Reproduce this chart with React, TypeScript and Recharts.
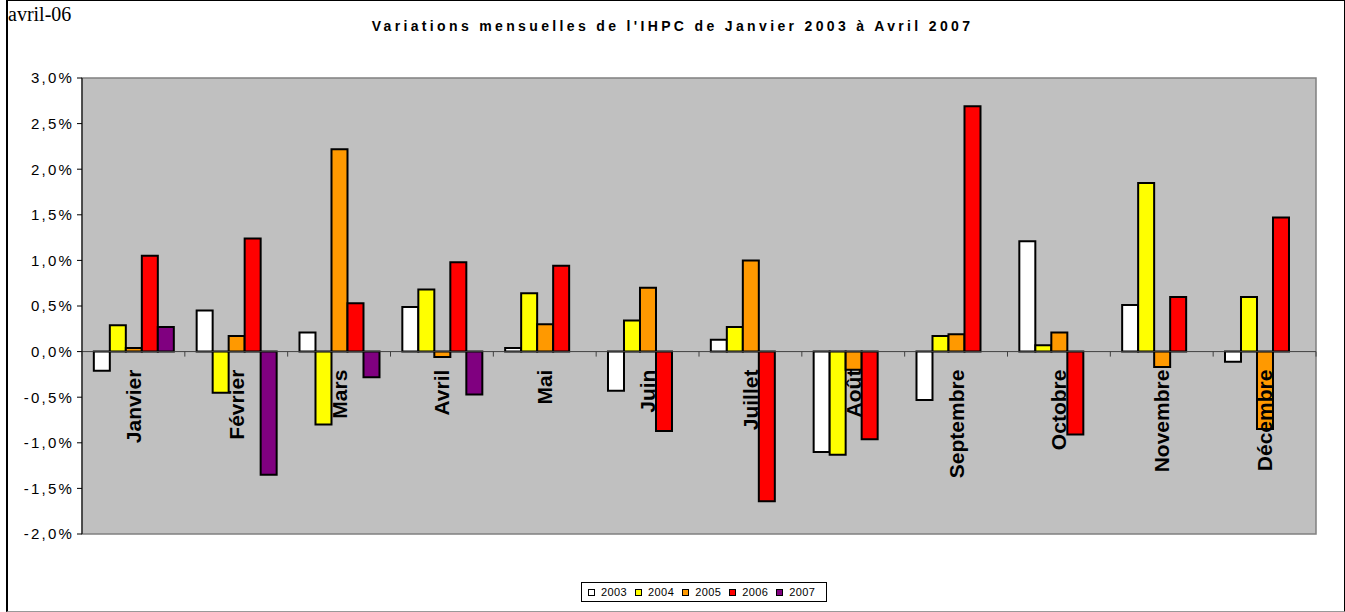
import { BarChart, Bar, XAxis, YAxis, CartesianGrid, ReferenceLine, ReferenceArea } from "recharts";

// Variations mensuelles de l'IHPC, une barre par année et par mois.
const months = ["Janvier", "Février", "Mars", "Avril", "Mai", "Juin", "Juillet", "Août", "Septembre", "Octobre", "Novembre", "Décembre"];
const years = ["2003", "2004", "2005", "2006", "2007"];
const colors = ["#FFFFFF", "#FFFF00", "#FF9900", "#FF0000", "#800080"];

const v2003 = [-0.21, 0.45, 0.21, 0.49, 0.04, -0.43, 0.13, -1.1, -0.53, 1.21, 0.51, -0.11];
const v2004 = [0.29, -0.45, -0.8, 0.68, 0.64, 0.34, 0.27, -1.13, 0.17, 0.07, 1.85, 0.6];
const v2005 = [0.04, 0.17, 2.22, -0.06, 0.3, 0.7, 1.0, -0.2, 0.19, 0.21, -0.17, -0.85];
const v2006 = [1.05, 1.24, 0.53, 0.98, 0.94, -0.87, -1.64, -0.96, 2.69, -0.91, 0.6, 1.47];
const v2007 = [0.27, -1.35, -0.28, -0.47, null, null, null, null, null, null, null, null];

const yTicks = [-2, -1.5, -1, -0.5, 0, 0.5, 1, 1.5, 2, 2.5, 3];

const series = [v2003, v2004, v2005, v2006, v2007];
const data = months.map((m, i) => {
  const row: Record<string, any> = { month: m };
  years.forEach((y, k) => (row[y] = series[k][i]));
  return row;
});

const W = 1345;
const H = 612;
const PLOT_LEFT = 82;
const PLOT_RIGHT = 1316;
const PLOT_TOP = 78;
const PLOT_BOTTOM = 534;
const Y_MIN = -2;
const Y_MAX = 3;
const ZERO_Y = PLOT_TOP + ((PLOT_BOTTOM - PLOT_TOP) * Y_MAX) / (Y_MAX - Y_MIN);
const BAND = (PLOT_RIGHT - PLOT_LEFT) / months.length;

const font = "Arial, 'Liberation Sans', sans-serif";

const fmt = (v: number) => `${v.toFixed(1).replace(".", ",")}%`;

// labels sit on the zero line, as in Excel's "next to axis"
function MonthTick(props: any) {
  const { x, payload, index } = props;
  const y0 = ZERO_Y + 18;
  return (
    <g>
      <line x1={x - BAND / 2} x2={x - BAND / 2} y1={ZERO_Y} y2={ZERO_Y + 5} stroke="#404040" />
      {index === months.length - 1 && (
        <line x1={x + BAND / 2} x2={x + BAND / 2} y1={ZERO_Y} y2={ZERO_Y + 5} stroke="#404040" />
      )}
      <text
        x={x}
        y={y0}
        transform={`rotate(-90, ${x}, ${y0})`}
        textAnchor="end"
        dominantBaseline="central"
        fontFamily={font}
        fontWeight="bold"
        fontSize={21}
        fill="#000"
      >
        {payload.value}
      </text>
    </g>
  );
}

export default function App() {
  return (
    <div style={{ position: "absolute", left: 0, top: 0, width: W, height: H, background: "#fff", fontFamily: font }}>
      <div
        style={{
          position: "absolute",
          left: 6,
          top: 0,
          width: 1336,
          height: 610,
          borderLeft: "2px solid #000",
          borderTop: "1px solid #000",
          borderRight: "2px solid #000",
          borderBottom: "1px solid #999",
        }}
      />
      <div
        style={{
          position: "absolute",
          left: 8,
          top: 3,
          fontFamily: "'Liberation Serif', 'Times New Roman', serif",
          fontSize: 20,
          lineHeight: "22px",
          color: "#000",
        }}
      >
        avril-06
      </div>
      <div
        style={{
          position: "absolute",
          left: 0,
          width: W,
          top: 18,
          textAlign: "center",
          fontSize: 14,
          fontWeight: "bold",
          letterSpacing: 3.35,
          color: "#000",
        }}
      >
        Variations mensuelles de l'IHPC de Janvier 2003 à Avril 2007
      </div>
      <BarChart
        width={W}
        height={H}
        data={data}
        margin={{ top: PLOT_TOP, right: W - PLOT_RIGHT, left: 0, bottom: H - PLOT_BOTTOM - 1 }}
        barCategoryGap="11.5%"
        barGap={0}
        style={{ position: "absolute", left: 0, top: 0 }}
      >
        <CartesianGrid fill="#C0C0C0" horizontal={false} vertical={false} />
        <XAxis
          dataKey="month"
          height={1}
          axisLine={false}
          tickLine={false}
          interval={0}
          tick={<MonthTick />}
        />
        <YAxis
          width={PLOT_LEFT}
          domain={[Y_MIN, Y_MAX]}
          ticks={yTicks}
          tickFormatter={fmt}
          axisLine={{ stroke: "#000" }}
          tickLine={{ stroke: "#000" }}
          tickSize={5}
          tickMargin={3}
          tick={{ fill: "#000", fontSize: 15, fontFamily: font, letterSpacing: 2.2 }}
          allowDataOverflow
        />
        {years.map((y, k) => (
          <Bar key={y} dataKey={y} fill={colors[k]} stroke="#000" strokeWidth={2} isAnimationActive={false} />
        ))}
        <ReferenceLine y={0} stroke="#404040" />
        <ReferenceArea y1={Y_MIN} y2={Y_MAX} fill="none" stroke="#808080" strokeWidth={1.5} />
      </BarChart>
      <div
        style={{
          position: "absolute",
          left: 581,
          top: 582,
          width: 246,
          height: 20,
          border: "1px solid #000",
          display: "flex",
          alignItems: "center",
          paddingLeft: 6,
          boxSizing: "border-box",
          fontSize: 11,
          letterSpacing: 0.4,
        }}
      >
        {years.map((y, k) => (
          <div key={y} style={{ display: "flex", alignItems: "center", marginRight: 8 }}>
            <span
              style={{
                display: "inline-block",
                width: 5,
                height: 5,
                border: "1.5px solid #000",
                background: colors[k],
                marginRight: 6,
              }}
            />
            <span>{y}</span>
          </div>
        ))}
      </div>
    </div>
  );
}
